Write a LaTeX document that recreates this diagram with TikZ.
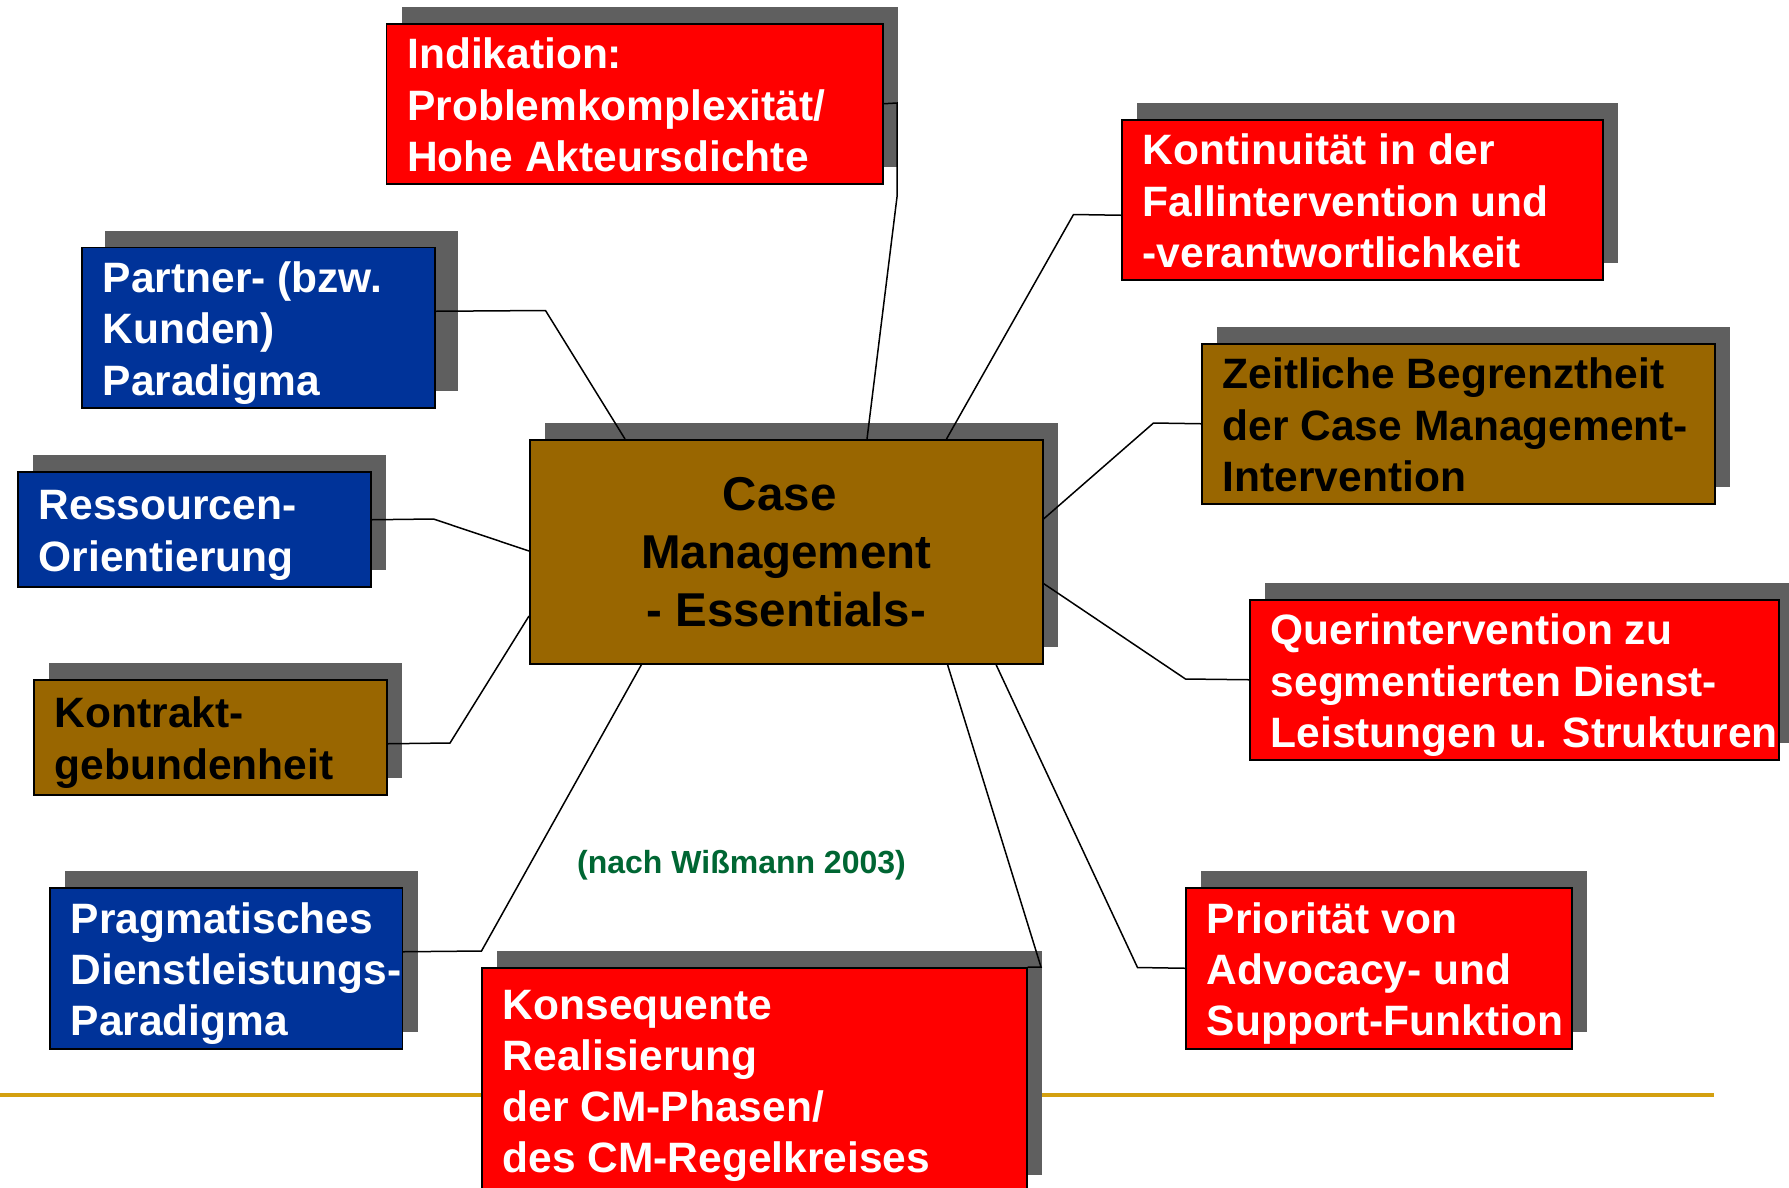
\documentclass[tikz,border=0pt]{standalone}
\usepackage{fontspec}
\setmainfont{Liberation Sans}
\definecolor{cmred}{RGB}{255,0,0}
\definecolor{cmblue}{RGB}{0,51,153}
\definecolor{cmbrown}{RGB}{153,102,0}
\definecolor{cmshadow}{RGB}{95,95,95}
\definecolor{cmgreen}{RGB}{0,102,51}
\definecolor{cmgold}{RGB}{212,160,16}
\tikzset{
  cmbox/.style={draw=black, line width=1.5pt, inner sep=0pt, anchor=north west,
    font=\bfseries\fontsize{42.5}{51.3}\selectfont},
  redbox/.style={cmbox, fill=cmred, text=white},
  bluebox/.style={cmbox, fill=cmblue, text=white},
  brownbox/.style={cmbox, fill=cmbrown, text=black},
  link/.style={draw=black, line width=1.5pt, line join=miter},
}
% #1 name, #2 x1, #3 y1, #4 x2, #5 y2, #6 style, #7 shadow dx, #8 text
\newcommand{\cmitem}[8]{%
  \fill[cmshadow] (#2+#7,#3-16) rectangle (#4+#7,#5-16);
  \pgfmathsetlengthmacro\cmbw{#4-#2}%
  \pgfmathsetlengthmacro\cmbh{#5-#3}%
  \node[#6, minimum width=\cmbw, minimum height=\cmbh] (#1) at (#2,#3)
    {\makebox[\cmbw][l]{\hspace{21pt}\raisebox{-6pt}[\height][\depth]{\begin{tabular}{@{}l@{}}#8\end{tabular}}}};
}
\begin{document}
\begin{tikzpicture}[x=1pt, y=-1pt]
\useasboundingbox (0,0) rectangle (1789,1187);
\fill[white] (0,0) rectangle (1789,1187);

% gold rule
\coordinate (ruleL) at (0,1095.3);
\coordinate (ruleR) at (1714,1095.3);
\draw[cmgold, line width=4pt] (ruleL) -- (ruleR);

% boxes
\cmitem{ind}{385.5}{23}{882}{183}{redbox}{16}{Indikation:\\Problemkomplexität/\\Hohe Akteursdichte}
\cmitem{part}{81}{246.5}{434}{407}{bluebox}{24}{Partner- (bzw.\\Kunden)\\Paradigma}
\cmitem{res}{17}{471}{370}{586}{bluebox}{16}{Ressourcen-\\Orientierung}
\cmitem{kon}{33}{679}{386}{794}{brownbox}{16}{Kontrakt-\\gebundenheit}
\cmitem{prag}{49}{887}{401.5}{1048}{bluebox}{16}{Pragmatisches\\Dienstleistungs-\\Paradigma}
\cmitem{kons}{481}{967}{1026}{1191}{redbox}{16}{Konsequente\\Realisierung\\der CM-Phasen/\\des CM-Regelkreises}
\cmitem{kont}{1121}{119}{1602}{279}{redbox}{16}{Kontinuität in der\\Fallintervention und\\-verantwortlichkeit}
\cmitem{zeit}{1201}{343}{1714}{503}{brownbox}{16}{Zeitliche Begrenztheit\\der Case Management-\\Intervention}
\cmitem{quer}{1249}{599}{1778}{759}{redbox}{16}{Querintervention zu\\segmentierten Dienst-\\Leistungen u. Strukturen}
\cmitem{prio}{1185}{887}{1571}{1048}{redbox}{16}{Priorität von\\Advocacy- und\\Support-Funktion}

% centre box
\fill[cmshadow] (545,423) rectangle (1058,647);
\node[brownbox, align=center, minimum width=513pt, minimum height=224pt,
  font=\bfseries\fontsize{47.5}{58}\selectfont] (cm) at (529,439)
  {Case\hspace*{13pt}\\Management\\- Essentials-};

% source note
\node[font=\bfseries\fontsize{32}{38}\selectfont, text=cmgreen] (src) at (741.5,865)
  {(nach Wißmann 2003)};

% knee points
\coordinate (kpart) at (545.5,310.5);
\coordinate (kres) at (433.5,519);
\coordinate (kkon) at (450,743);
\coordinate (kprag) at (481.5,951);
\coordinate (kind1) at (897,103);
\coordinate (kind2) at (897,197);
\coordinate (kkont) at (1073.5,214.5);
\coordinate (kzeit) at (1153.5,423);
\coordinate (kquer) at (1185.5,679);
\coordinate (kprio) at (1137.5,967.5);
\coordinate (kkons) at (1041,967);

% connectors
\draw[link] ([yshift=16.25pt]part.east) -- (kpart) -- ([xshift=96pt]cm.north west);
\draw[link] ([yshift=9.5pt]res.east) -- (kres) -- ([yshift=-112pt]cm.north west);
\draw[link] ([yshift=-6.5pt]kon.east) -- (kkon) -- ([yshift=-177pt]cm.north west);
\draw[link] ([yshift=16.5pt]prag.east) -- (kprag) -- ([xshift=112.5pt]cm.south west);
\draw[link] (ind.east) -- (kind1) -- (kind2) -- ([xshift=338pt]cm.north west);
\draw[link] ([yshift=-15.5pt]kont.west) -- (kkont) -- ([xshift=417.5pt]cm.north west);
\draw[link] (zeit.west) -- (kzeit) -- ([yshift=-80pt]cm.north east);
\draw[link] (quer.west) -- (kquer) -- ([yshift=-144.5pt]cm.north east);
\draw[link] (prio.west) -- (kprio) -- ([xshift=-47.5pt]cm.south east);
\draw[link] (kons.north east) -- (kkons) -- ([xshift=-96pt]cm.south east);
\end{tikzpicture}
\end{document}
